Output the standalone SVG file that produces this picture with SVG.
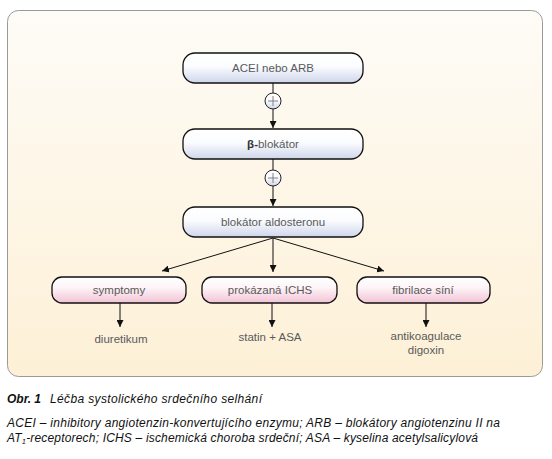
<svg xmlns="http://www.w3.org/2000/svg" width="552" height="459" viewBox="0 0 552 459">
<defs>
<linearGradient id="panelG" x1="0" y1="0" x2="0" y2="1">
<stop offset="0" stop-color="#fefcf7"/>
<stop offset="1" stop-color="#fdf0d6"/>
</linearGradient>
<linearGradient id="blueG" x1="0" y1="0" x2="0" y2="1">
<stop offset="0" stop-color="#ffffff"/>
<stop offset="0.45" stop-color="#fbfcfe"/>
<stop offset="1" stop-color="#cfd6ec"/>
</linearGradient>
<linearGradient id="pinkG" x1="0" y1="0" x2="0" y2="1">
<stop offset="0" stop-color="#ffffff"/>
<stop offset="0.4" stop-color="#fdf5f8"/>
<stop offset="1" stop-color="#f3c3d5"/>
</linearGradient>
<marker id="arr" markerWidth="8" markerHeight="7" refX="7" refY="3.5" orient="auto" markerUnits="userSpaceOnUse">
<path d="M0,0 L7,3.5 L0,7 z" fill="#111"/>
</marker>
<style>
.box{stroke:#111;stroke-width:1.3}
.blue{fill:url(#blueG)}
.pink{fill:url(#pinkG)}
.nt{font-family:"Liberation Sans",Arial,sans-serif;font-size:11.5px;fill:#5a5a5a;text-anchor:middle}
.ln{stroke:#111;stroke-width:1;fill:none}
.cap{font-family:"Liberation Sans",Arial,sans-serif;font-size:12px;fill:#111;font-style:italic}
</style>
</defs>
<rect x="7.5" y="10.5" width="535" height="366" rx="11" fill="url(#panelG)" stroke="#9a9a9a" stroke-width="1"/>
<g id="connectors">
<line class="ln" x1="273" y1="83" x2="273" y2="93"/>
<line class="ln" x1="273" y1="109" x2="273" y2="128" marker-end="url(#arr)"/>
<line class="ln" x1="273" y1="159" x2="273" y2="170"/>
<line class="ln" x1="273" y1="186" x2="273" y2="206" marker-end="url(#arr)"/>
<line class="ln" x1="273" y1="238" x2="162" y2="271" marker-end="url(#arr)"/>
<line class="ln" x1="273" y1="238" x2="273" y2="272" marker-end="url(#arr)"/>
<line class="ln" x1="273" y1="238" x2="384" y2="271" marker-end="url(#arr)"/>
<line class="ln" x1="120" y1="303" x2="120" y2="327" marker-end="url(#arr)"/>
<line class="ln" x1="272" y1="303" x2="272" y2="327" marker-end="url(#arr)"/>
<line class="ln" x1="426" y1="303" x2="426" y2="327" marker-end="url(#arr)"/>
</g>
<g id="plus1">
<circle cx="273" cy="101" r="8" class="blue" stroke="#222" stroke-width="1"/>
<path d="M268,101 H278 M273,96 V106" stroke="#777" stroke-width="0.9"/>
</g>
<g id="plus2">
<circle cx="273" cy="178" r="8" class="blue" stroke="#222" stroke-width="1"/>
<path d="M268,178 H278 M273,173 V183" stroke="#777" stroke-width="0.9"/>
</g>
<g id="acei">
<rect x="183" y="53" width="180" height="30" rx="12" class="box blue"/>
<text x="273" y="72" class="nt">ACEI nebo ARB</text>
</g>
<g id="beta">
<rect x="183" y="129" width="180" height="30" rx="12" class="box blue"/>
<text x="273" y="148" class="nt"><tspan font-weight="bold" fill="#333">β-</tspan>blokátor</text>
</g>
<g id="aldo">
<rect x="183" y="207" width="180" height="30" rx="12" class="box blue"/>
<text x="273" y="226" class="nt">blokátor aldosteronu</text>
</g>
<g id="symptomy">
<rect x="52" y="277" width="134" height="26" rx="10" class="box pink"/>
<text x="119" y="294" class="nt">symptomy</text>
</g>
<g id="ichs">
<rect x="202" y="277" width="135" height="26" rx="10" class="box pink"/>
<text x="270" y="294" class="nt">prokázaná ICHS</text>
</g>
<g id="fibrilace">
<rect x="357" y="277" width="133" height="26" rx="10" class="box pink"/>
<text x="423" y="294" class="nt">fibrilace síní</text>
</g>
<g id="diuretikum">
<text x="121" y="343" class="nt">diuretikum</text>
</g>
<g id="statin">
<text x="270" y="341" class="nt">statin + ASA</text>
</g>
<g id="antikoagulace">
<text x="426" y="340" class="nt">antikoagulace</text>
<text x="426" y="354" class="nt">digoxin</text>
</g>
<g id="caption">
<text x="7" y="403" class="cap" font-weight="bold">Obr. 1</text>
<text x="50" y="403" class="cap" textLength="212">Léčba systolického srdečního selhání</text>
<text x="7" y="427" class="cap" textLength="493">ACEI – inhibitory angiotenzin-konvertujícího enzymu; ARB – blokátory angiotenzinu II na</text>
<text x="7" y="442" class="cap" textLength="471">AT<tspan font-size="7.5" dy="2">1</tspan><tspan dy="-2">-receptorech; ICHS – ischemická choroba srdeční; ASA – kyselina acetylsalicylová</tspan></text>
</g>
</svg>
